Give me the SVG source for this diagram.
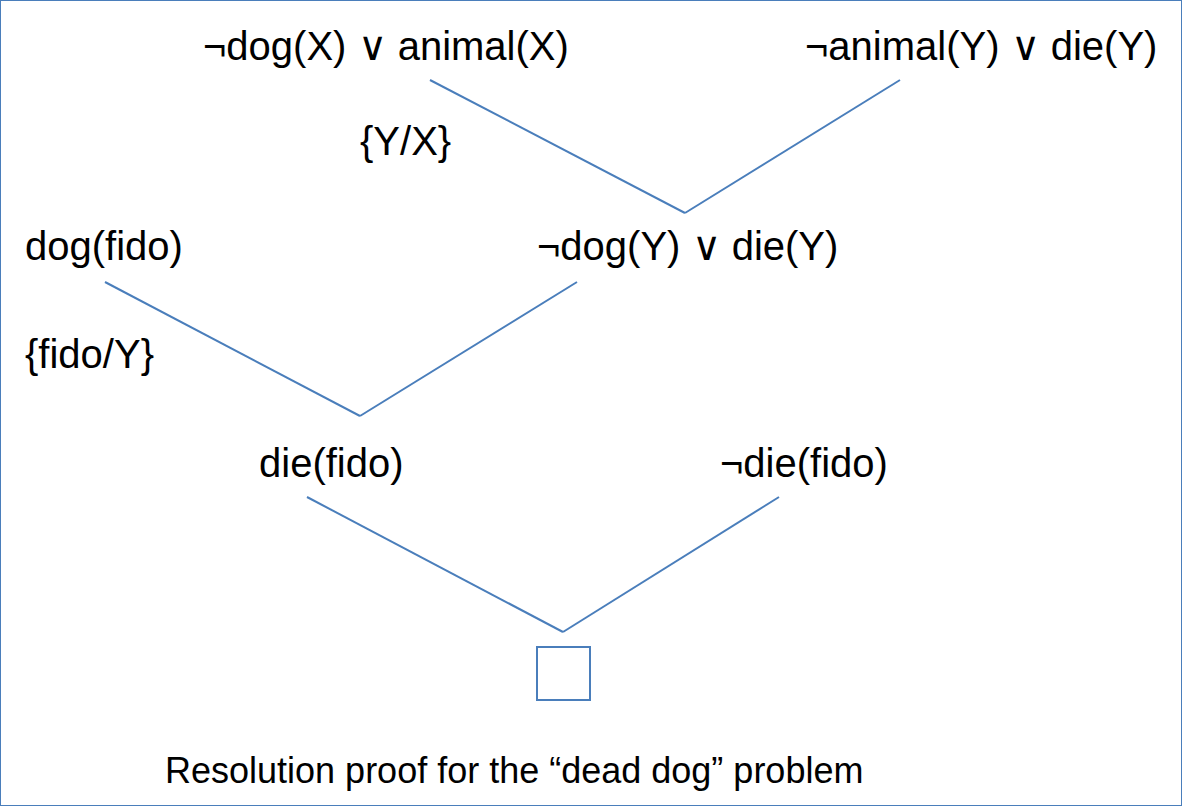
<svg xmlns="http://www.w3.org/2000/svg" width="1182" height="806" viewBox="0 0 1182 806">
<style>
text{font-family:"Liberation Sans",Arial,sans-serif;font-size:40px;fill:#000}
.c{font-size:36px}
line,rect{stroke:#4a7ebb;stroke-width:2;fill:none}
</style>
<rect width="1182" height="806" fill="#fff" stroke="none"/>
<g id="connectors">
<line x1="430" y1="80" x2="685" y2="213"/><line x1="685" y1="213" x2="900" y2="80"/>
<line x1="105" y1="282" x2="360" y2="416"/><line x1="360" y1="416" x2="577" y2="282"/>
<line x1="307" y1="497" x2="563" y2="632"/><line x1="563" y1="632" x2="779" y2="497"/>
</g>
<g id="n1"><text x="203" y="60">¬dog(X) ∨ animal(X)</text></g>
<g id="n2"><text x="805" y="60">¬animal(Y) ∨ die(Y)</text></g>
<g id="l1"><text x="360" y="155">{Y/X}</text></g>
<g id="n3"><text x="25" y="260">dog(fido)</text></g>
<g id="n4"><text x="537" y="260">¬dog(Y) ∨ die(Y)</text></g>
<g id="l2"><text x="25" y="368">{fido/Y}</text></g>
<g id="n5"><text x="259" y="477">die(fido)</text></g>
<g id="n6"><text x="720" y="477">¬die(fido)</text></g>
<g id="n7"><rect x="537" y="647" width="53" height="53"/></g>
<g id="caption"><text class="c" x="165" y="783">Resolution proof for the “dead dog” problem</text></g>
</svg>
